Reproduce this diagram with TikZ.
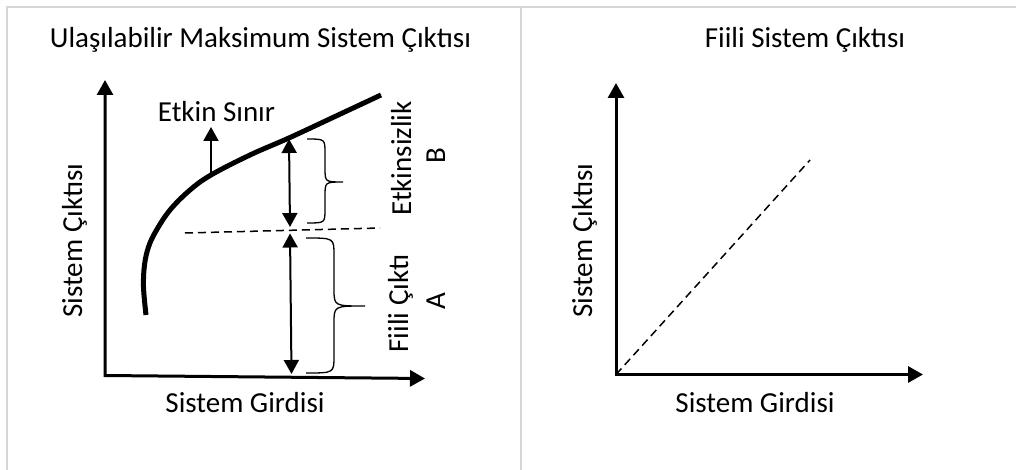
\documentclass[tikz,border=0pt]{standalone}
\usepackage{fontspec}
\setmainfont{Carlito}
\usetikzlibrary{arrows.meta}
\begin{document}
\begin{tikzpicture}[x=1pt,y=-1pt,
  lbl/.style={inner sep=0pt, font=\fontsize{29}{34}\selectfont},
  vlbl/.style={lbl, rotate=90, anchor=base},
  hlbl/.style={lbl, anchor=base},
  frame/.style={draw=black!16, line width=2pt},
  axis/.style={line width=3pt, {Triangle[length=15pt,width=16pt]}-{Triangle[length=15pt,width=16pt]}},
  dbl/.style={line width=2pt, {Triangle[length=14pt,width=15pt]}-{Triangle[length=14pt,width=15pt]}},
  uparrow/.style={line width=2pt, -{Triangle[length=14pt,width=15pt]}},
  frontier/.style={line width=5pt},
  dline/.style={line width=1.5pt, dash pattern=on 8pt off 5pt},
  bracestyle/.style={line width=1.3pt}
]
\useasboundingbox (0,0) rectangle (1016,470);
% frames
\draw[frame] (7,470) -- (7,7.5) -- (1016,7.5);
\draw[frame] (520.5,7.5) -- (520.5,470);
% titles
\node[hlbl] (t1) at (260.5,48) {Ulaşılabilir Maksimum Sistem Çıktısı};
\node[hlbl] (t2) at (805,48) {Fiili Sistem Çıktısı};
% left axes
\coordinate (o1) at (105,375.5);
\coordinate (ya) at (105,80);
\coordinate (xa) at (425,378.5);
\draw[axis] (ya) -- (o1) -- (xa);
% right axes
\coordinate (o2) at (616,374.5);
\coordinate (yb) at (616,83);
\coordinate (xb) at (923,374.5);
\draw[axis] (yb) -- (o2) -- (xb);
\coordinate (d2) at (810,160);
\draw[dline] (o2) -- (d2);
% axis labels
\node[vlbl] (yl1) at (82,240.5) {Sistem Çıktısı};
\node[hlbl] (xl1) at (245,412) {Sistem Girdisi};
\node[vlbl] (yl2) at (592,240.5) {Sistem Çıktısı};
\node[hlbl] (xl2) at (755,412) {Sistem Girdisi};
% frontier curve
\draw[frontier] plot[smooth, tension=0.6] coordinates {(146,315) (143.5,287) (144.5,265) (148.5,247) (156,231) (170,210) (190,190) (211,175) (250,155) (290,137.5) (335,116.5) (381,95)};
% Etkin Sinir arrow
\node[hlbl] (es) at (216.5,122) {Etkin Sınır};
\coordinate (c0) at (211,175);
\coordinate (c1) at (211,127);
\draw[uparrow] (c0) -- (c1);
% dashed level line
\coordinate (d0) at (185,233);
\coordinate (d1) at (380,228);
\draw[dline] (d0) -- (d1);
% double arrows
\coordinate (m0) at (289,139);
\coordinate (m1) at (290,227);
\coordinate (m2) at (290,233.5);
\coordinate (m3) at (291.5,374);
\draw[dbl] (m0) -- (m1);
\draw[dbl] (m2) -- (m3);
% braces
\draw[bracestyle] (307,139) .. controls (325,139) .. (325,153) -- (325,168) .. controls (325,182) .. (343,182) .. controls (325,182) .. (325,196) -- (325,209) .. controls (325,223) .. (307,223);
\draw[bracestyle] (306,238) .. controls (334,238) .. (334,255) -- (334,289) .. controls (334,306) .. (365,306) .. controls (334,306) .. (334,323) -- (334,356) .. controls (334,373) .. (306,373);
% brace labels
\node[vlbl] (e) at (411,158.5) {Etkinsizlik};
\node[vlbl] (b) at (445,156) {B};
\node[vlbl] (f) at (408,303.5) {Fiili Çıktı};
\node[vlbl] (a) at (445,301.5) {A};
\end{tikzpicture}
\end{document}
